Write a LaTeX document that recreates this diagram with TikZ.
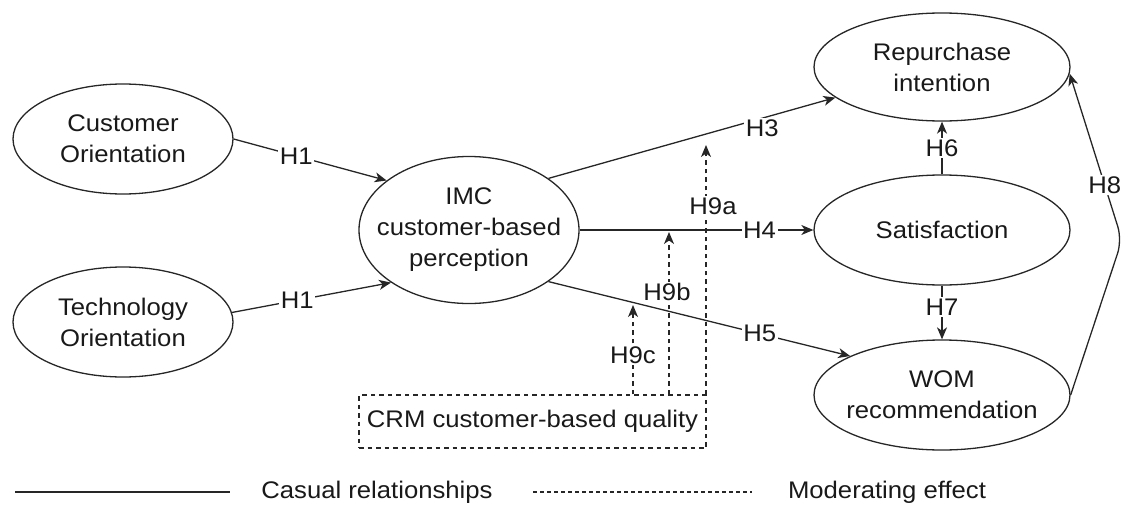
\documentclass[tikz,border=0pt]{standalone}
\usepackage{fontspec}
\setmainfont{Liberation Sans}[FakeStretch=1.07]
\usetikzlibrary{arrows.meta,shapes.geometric}
\begin{document}
\begin{tikzpicture}[x=1pt,y=-1pt,
  every node/.style={font=\fontsize{24}{31}\selectfont, text=black!90},
  ell/.style={draw=black!85, ellipse, line width=1.3pt, inner sep=0pt},
  txt/.style={align=center, inner sep=0pt},
  conn/.style={draw=black!85, line width=1.3pt, -{Stealth[length=12pt,width=10pt,inset=3.5pt]}},
  mod/.style={conn, dash pattern=on 4.5pt off 4pt},
  lbl/.style={fill=white, inner sep=1.5pt},
  crmbox/.style={draw=black!85, line width=1.3pt, dash pattern=on 4.5pt off 4pt, inner sep=0pt, minimum width=347pt, minimum height=53pt}
]
\useasboundingbox (0,0) rectangle (1127,506);

% nodes
\node[ell, minimum width=220pt, minimum height=110pt] (co)  at (123,139) {};
\node[txt] (cot) at (co) {Customer\\Orientation};
\node[ell, minimum width=220pt, minimum height=110pt] (to)  at (123,322) {};
\node[txt] (tot) at (to) {Technology\\Orientation};
\node[ell, minimum width=220pt, minimum height=147pt] (imc) at (469,230) {};
\node[txt] (imct) at (imc) {IMC\\customer-based\\perception};
\node[ell, minimum width=256pt, minimum height=108pt] (rep) at (942,67)  {};
\node[txt] (rept) at (rep) {Repurchase\\intention};
\node[ell, minimum width=256pt, minimum height=110pt] (sat) at (942,230) {};
\node[txt] (satt) at (sat) {Satisfaction};
\node[ell, minimum width=256pt, minimum height=110pt] (wom) at (942,395) {};
\node[txt] (womt) at (wom) {WOM\\recommendation};
\node[crmbox] (crm) at (532.5,421.5) {CRM customer-based quality};

% causal relationships
\draw[conn] (co.east) -- node[lbl, pos=0.41] {H1} (imc.149);
\draw[conn] (to.5) -- node[lbl, pos=0.41] {H1} (imc.214);
\draw[conn] (imc.33) -- node[lbl, pos=0.745, yshift=-10pt] {H3} (rep.196);
\draw[conn] (imc.east) -- node[lbl, pos=0.77] {H4} (sat.west);
\draw[conn] (imc.-33) -- node[lbl, pos=0.70] {H5} (wom.157);
\draw[conn] (sat.north) -- node[lbl, pos=0.5] {H6} (rep.south);
\draw[conn] (sat.south) -- node[lbl, pos=0.4] {H7} (wom.north);
\coordinate (h8c) at (1122,240);
\draw[conn, rounded corners=14pt] (wom.east) -- (h8c) -- node[lbl, pos=0.33] {H8} (rep.-3);

% moderating effects
\coordinate (m9a) at (706,145);
\coordinate (m9b) at (669,232);
\coordinate (m9c) at (633,305);
\draw[mod] (crm.north -| m9a) -- node[lbl, pos=0.755, xshift=7pt] {H9a} (m9a);
\draw[mod] (crm.north -| m9b) -- node[lbl, pos=0.63, xshift=-2pt] {H9b} (m9b);
\draw[mod] (crm.north -| m9c) -- node[lbl, pos=0.44] {H9c} (m9c);

% legend
\coordinate (la1) at (15,492);
\coordinate (la2) at (230,492);
\coordinate (lb1) at (533,492);
\coordinate (lb2) at (752,492);
\draw[draw=black!85, line width=1.3pt] (la1) -- (la2);
\draw[draw=black!85, line width=1.3pt, dash pattern=on 4pt off 3pt] (lb1) -- (lb2);
\node (lt1) at (377,492) {Casual relationships};
\node (lt2) at (887,492) {Moderating effect};
\end{tikzpicture}
\end{document}
